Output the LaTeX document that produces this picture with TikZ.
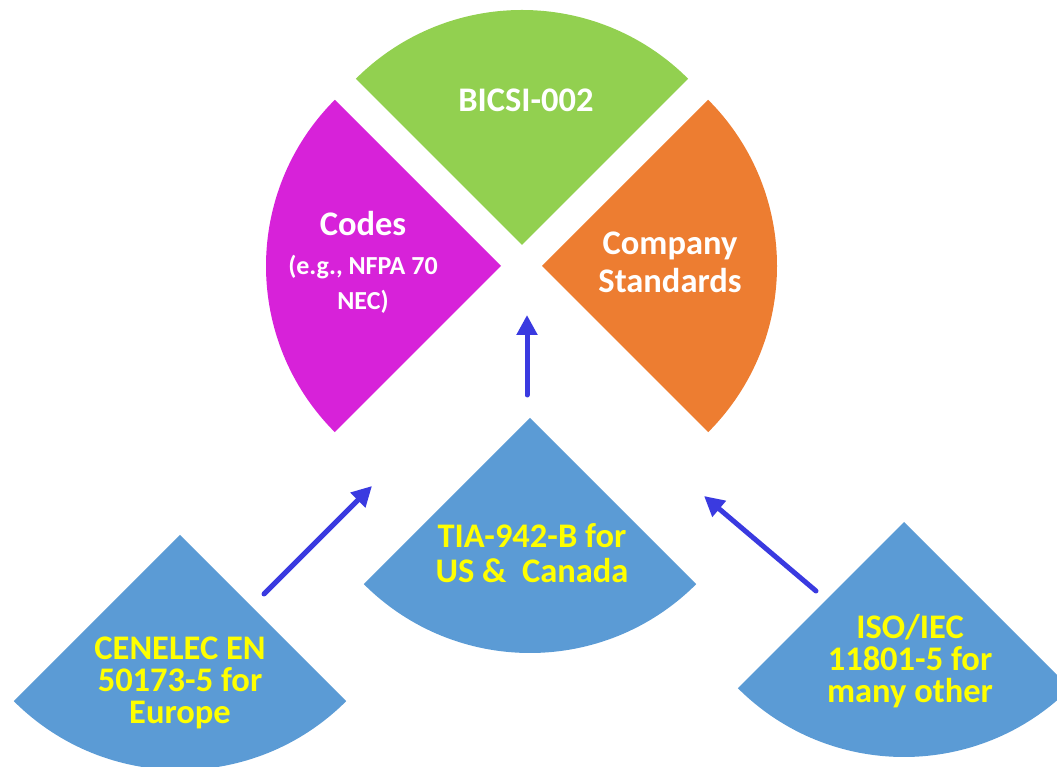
\documentclass[tikz,border=0pt]{standalone}
\usepackage{fontspec}
\setmainfont{Carlito}
\usepackage{tikz}
\usetikzlibrary{arrows.meta}
\definecolor{bicsigreen}{HTML}{92D050}
\definecolor{codesmagenta}{HTML}{D722D9}
\definecolor{companyorange}{HTML}{ED7D31}
\definecolor{stdblue}{HTML}{5B9BD5}
\definecolor{feedblue}{HTML}{3A3AE0}
\definecolor{lblyellow}{HTML}{FFFF00}

\begin{document}
\begin{tikzpicture}[x=1pt,y=1pt,
		white lbl/.style={text=white,font=\bfseries\fontsize{34.5}{38}\selectfont,align=center,anchor=base,inner sep=0pt},
		yellow lbl/.style={text=lblyellow,font=\bfseries\fontsize{34.5}{32}\selectfont,align=center,anchor=base,inner sep=0pt},
		feed/.style={draw=feedblue,line width=5pt,line cap=round,-{Triangle[length=20pt,width=20pt]}}]
		\useasboundingbox (0,0) rectangle (1057,767);
		\clip (0,0) rectangle (1057,767);
		%circle sectors
		\fill[bicsigreen] (522,522) -- ++(45:235) arc[start angle=45,end angle=135,radius=235] -- cycle;
		\fill[codesmagenta] (501,501) -- ++(135:235) arc[start angle=135,end angle=225,radius=235] -- cycle;
		\fill[companyorange] (542,501) -- ++(-45:235) arc[start angle=-45,end angle=45,radius=235] -- cycle;
		%blue sectors
		\fill[stdblue] (530,349) -- ++(225:235) arc[start angle=225,end angle=315,radius=235] -- cycle;
		\fill[stdblue] (180,232) -- ++(225:235) arc[start angle=225,end angle=315,radius=235] -- cycle;
		\fill[stdblue] (904,245) -- ++(225:235) arc[start angle=225,end angle=315,radius=235] -- cycle;
		%labels (base = last line)
		\node[white lbl] (bicsi) at (526,655) {BICSI-002};
		\node[white lbl,font=\bfseries\fontsize{26}{35}\selectfont] (codes) at (363,457) {{\fontsize{34.5}{38}\selectfont Codes}\\[4pt](e.g., NFPA 70\\NEC)};
		\node[white lbl] (company) at (670,474) {Company\\Standards};
		\node[yellow lbl,font=\bfseries\fontsize{34.5}{35}\selectfont] (tia) at (532,184) {TIA-942-B for\\US \&\ \ Canada};
		\node[yellow lbl] (cenelec) at (180,43) {CENELEC EN\\50173-5 for\\Europe};
		\node[yellow lbl] (iso) at (910,64) {ISO/IEC\\11801-5 for\\many other};
		%arrows
		\coordinate (tiafrom) at (527,372);
		\coordinate (tiato) at (527,452);
		\coordinate (cenfrom) at (264,173);
		\coordinate (cento) at (372,281);
		\coordinate (isofrom) at (816,176);
		\coordinate (isoto) at (704,271);
		\draw[feed] (tiafrom) -- (tiato);
		\draw[feed] (cenfrom) -- (cento);
		\draw[feed] (isofrom) -- (isoto);
\end{tikzpicture}
\end{document}
